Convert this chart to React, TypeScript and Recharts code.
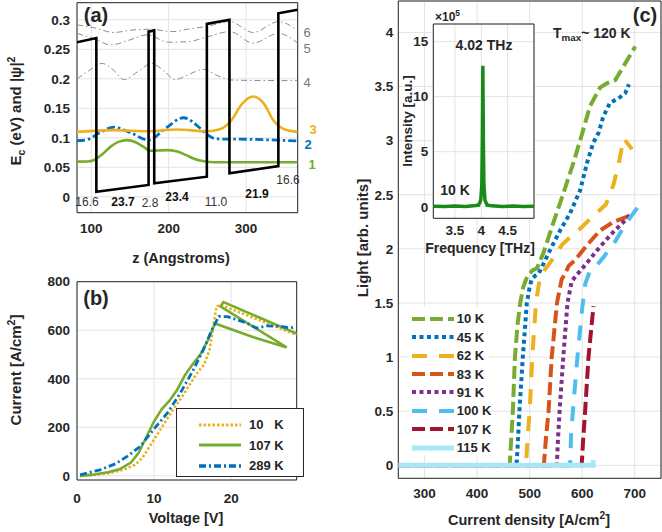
import React from 'react';
import { LineChart, Line, XAxis, YAxis, CartesianGrid, ReferenceArea } from 'recharts';

const FONT = '"Liberation Sans", Arial, Helvetica, sans-serif';
const INK = '#262626';
const GRID = '#E3E3E3';

// ---------- Panel (a): band diagram ----------
const potentialZ = [81.5, 106.5, 106.5, 174, 174, 181.3, 181.3, 249.3, 249.3, 278.5, 278.5, 341.7, 341.7, 366.7];
const potentialE = [0.262, 0.269, 0.0085, 0.020, 0.280, 0.282, 0.0227, 0.034, 0.293, 0.300, 0.0397, 0.052, 0.311, 0.317];

const level1Z = [81.5, 95, 103, 115, 125, 135, 146, 158, 168, 176, 186, 197, 210, 222, 232, 242, 249, 270, 300, 340, 366.7];
const level1E = [0.0595, 0.0598, 0.062, 0.073, 0.085, 0.093, 0.096, 0.092, 0.084, 0.078, 0.0785, 0.079, 0.077, 0.071, 0.065, 0.061, 0.0595, 0.0585, 0.0584, 0.0584, 0.0584];

const level2Z = [81.5, 95, 110, 129, 150, 174, 195, 219, 240, 249, 262, 300, 340, 366.7];
const level2E = [0.095, 0.097, 0.108, 0.118, 0.109, 0.096, 0.115, 0.134, 0.117, 0.106, 0.098, 0.0975, 0.096, 0.0945];

const level3Z = [81.5, 130, 174, 210, 250, 265, 280, 295, 309, 323, 335, 350, 366.7];
const level3E = [0.110, 0.113, 0.111, 0.114, 0.111, 0.114, 0.128, 0.158, 0.170, 0.158, 0.130, 0.114, 0.110];

const level4Z = [81.5, 95, 114, 130, 142, 160, 178, 195, 208, 225, 245, 262, 280, 320, 366.7];
const level4E = [0.200, 0.212, 0.226, 0.213, 0.1985, 0.212, 0.226, 0.212, 0.1985, 0.207, 0.216, 0.206, 0.198, 0.197, 0.197];

const level5Z = [81.5, 105, 125, 150, 172, 200, 225, 250, 279, 309, 342, 366.7];
const level5E = [0.277, 0.267, 0.2575, 0.266, 0.2745, 0.262, 0.263, 0.271, 0.280, 0.2605, 0.277, 0.2605];

const level6Z = [81.5, 105, 129, 155, 176, 206, 224, 250, 279, 309, 342, 366.7];
const level6E = [0.2915, 0.286, 0.2785, 0.283, 0.284, 0.280, 0.284, 0.289, 0.297, 0.2785, 0.297, 0.2815];

const zTicks = [100, 200, 300];
const eTicks = [0, 0.05, 0.1, 0.15, 0.2, 0.25, 0.3];

// ---------- Panel (b): I-V ----------
const iv10V = [0.4, 2, 4, 6, 7.5, 8.5, 9.5, 10.5, 11.5, 12.5, 13.5, 14.5, 15.5, 16.5, 17.2, 17.7, 18.1, 18.6, 28.5];
const iv10I = [0, 3, 10, 25, 45, 75, 125, 175, 225, 275, 320, 370, 420, 460, 520, 620, 698, 705, 581];

const iv107V = [0.4, 2, 4, 5.5, 7, 8, 9, 10, 11, 12, 13, 14, 15, 16, 17, 17.9, 22.8, 27.2, 18.6, 19.0, 28.5];
const iv107I = [0, 5, 15, 27, 55, 95, 160, 225, 275, 310, 355, 415, 460, 500, 560, 628, 572, 529, 698, 716, 586];

const iv289V = [0.4, 3, 5, 6.5, 8.2, 9.9, 11.7, 13.4, 15.1, 16.4, 17.5, 18.4, 19.5, 22, 23.3, 24.6, 26.4, 27.7, 28.1];
const iv289I = [4, 25, 50, 80, 121, 190, 258, 341, 437, 520, 602, 657, 656, 630, 609, 618, 616, 609, 612];

const vTicks = [0, 10, 20];
const iTicks = [0, 200, 400, 600, 800];

// ---------- Panel (c): L-J ----------
const lj10J = [250, 462, 465, 468, 472, 477, 482, 488, 495, 505, 514, 526, 545, 564, 583, 599, 615, 634, 647, 663, 679, 701];
const lj10L = [0, 0, 0.25, 0.5, 1.0, 1.3, 1.5, 1.65, 1.74, 1.8, 1.82, 1.96, 2.24, 2.51, 2.79, 3.05, 3.32, 3.49, 3.53, 3.56, 3.69, 3.87];
const lj45J = [250, 475, 478, 480.5, 487, 494.6, 500, 504, 510, 517, 539, 558, 577, 596, 609, 621, 631, 640, 653, 669, 682, 689];
const lj45L = [0, 0, 0.25, 0.5, 1.0, 1.5, 1.65, 1.72, 1.75, 1.77, 1.99, 2.17, 2.33, 2.54, 2.79, 2.98, 3.07, 3.22, 3.35, 3.39, 3.44, 3.52];
const lj62J = [250, 493, 496, 500, 505, 512, 520, 540, 562, 580, 599, 620, 645, 660, 670, 679, 695];
const lj62L = [0, 0, 0.25, 0.5, 1.0, 1.5, 1.75, 1.88, 2.04, 2.12, 2.2, 2.3, 2.41, 2.6, 2.8, 3.02, 2.92];
const lj83J = [250, 527, 531, 536, 542, 552, 561, 567.5, 574, 587, 612, 634, 660, 682, 691];
const lj83L = [0, 0, 0.25, 0.5, 1.0, 1.5, 1.72, 1.77, 1.84, 1.90, 2.05, 2.17, 2.25, 2.29, 2.31];
const lj91J = [250, 551.7, 554, 557, 564, 572, 580, 590, 609, 634, 660, 679, 694];
const lj91L = [0, 0, 0.25, 0.5, 1.0, 1.5, 1.7, 1.76, 1.87, 2.02, 2.16, 2.25, 2.33];
const lj100J = [250, 577, 579, 584, 590, 595, 600, 606, 615, 628, 640, 663, 675, 690, 705, 720];
const lj100L = [0, 0, 0.3, 0.6, 0.95, 1.2, 1.45, 1.68, 1.8, 1.85, 1.92, 2.07, 2.17, 2.28, 2.38, 2.40];
const lj107J = [250, 599, 602, 605.6, 612, 617, 621.5];
const lj107L = [0, 0, 0.25, 0.5, 1.0, 1.25, 1.47];
const lj115J = [250, 621, 621];
const lj115L = [0, 0, 0.05];

const jTicks = [300, 400, 500, 600, 700];
const lTicks = [0, 0.5, 1, 1.5, 2, 2.5, 3, 3.5, 4];

// ---------- Inset spectrum ----------
const specF = [3.09, 3.3, 3.5, 3.7, 3.85, 3.95, 3.99, 4.01, 4.02, 4.03, 4.04, 4.05, 4.07, 4.11, 4.2, 4.4, 4.6, 4.8, 5.0];
const specI = [0.05, 0.02, 0.06, 0.03, 0.08, 0.15, 0.6, 2.0, 6.0, 12.8, 6.0, 2.0, 0.6, 0.15, 0.08, 0.03, 0.06, 0.02, 0.05];
const fTicks = [3.5, 4, 4.5];
const sTicks = [0, 5, 10, 15];

const pts = (xs: number[], ys: number[]) => xs.map((x, i) => ({ x, y: ys[i] }));

const tickStyle = { fontSize: 13.5, fontWeight: 700, fill: INK, fontFamily: FONT };

const ivSeries = [
  { name: '10   K', color: '#EDB120', dash: '2.5 2', width: 2.6, data: pts(iv10V, iv10I) },
  { name: '107 K', color: '#77AC30', dash: undefined, width: 2.6, data: pts(iv107V, iv107I) },
  { name: '289 K', color: '#0072BD', dash: '7 3 2 3', width: 2.8, data: pts(iv289V, iv289I) },
];

const ljSeries = [
  { name: '10 K', color: '#77AC30', dash: '13 5', width: 4, data: pts(lj10J, lj10L) },
  { name: '45 K', color: '#0072BD', dash: '4 3.5', width: 4, data: pts(lj45J, lj45L) },
  { name: '62 K', color: '#EDB120', dash: '15 12', width: 4, data: pts(lj62J, lj62L) },
  { name: '83 K', color: '#D95319', dash: '13 5', width: 4, data: pts(lj83J, lj83L) },
  { name: '91 K', color: '#7E2F8E', dash: '4 3.5', width: 4, data: pts(lj91J, lj91L) },
  { name: '100 K', color: '#4DBEEE', dash: '15 12', width: 4, data: pts(lj100J, lj100L) },
  { name: '107 K', color: '#A2142F', dash: '13 5', width: 4, data: pts(lj107J, lj107L) },
  { name: '115 K', color: '#A9E6F7', dash: undefined, width: 5, data: pts(lj115J, lj115L) },
];

function Txt(props: any) {
  const { x, y, size = 14, weight = 700, color = INK, anchor = 'middle', rotate = 0, children, italic } = props;
  const tx = anchor === 'middle' ? '-50%' : anchor === 'end' ? '-100%' : '0%';
  return (
    <div
      style={{
        position: 'absolute',
        left: x,
        top: y,
        transform: `translate(${tx}, -50%)${rotate ? ` rotate(${rotate}deg)` : ''}`,
        fontSize: size,
        fontWeight: weight,
        color,
        fontFamily: FONT,
        lineHeight: 1,
        whiteSpace: 'pre',
        fontStyle: italic ? 'italic' : 'normal',
      }}
    >
      {children}
    </div>
  );
}

const Sup = ({ children }: any) => (
  <span style={{ fontSize: '0.7em', position: 'relative', top: '-0.55em' }}>{children}</span>
);
const Sub = ({ children }: any) => (
  <span style={{ fontSize: '0.7em', position: 'relative', top: '0.35em' }}>{children}</span>
);

function Sample({ color, dash, width }: any) {
  return (
    <svg width={42} height={10} style={{ display: 'block' }}>
      <line x1={0} y1={5} x2={42} y2={5} stroke={color} strokeWidth={width} strokeDasharray={dash} />
    </svg>
  );
}

function PanelA() {
  const dom: [number, number] = [81.5, 366.7];
  const ydom: [number, number] = [-0.027, 0.329];
  return (
    <LineChart width={300} height={240} margin={{ top: 2.7, right: 2.3, bottom: 0, left: 0 }}>
      <CartesianGrid stroke={GRID} />
      <XAxis type="number" dataKey="x" domain={dom} ticks={zTicks} allowDataOverflow height={27.3}
        tickLine={false} axisLine={false} tickSize={8} tickMargin={2.6} tick={tickStyle} interval={0} />
      <YAxis type="number" dataKey="y" domain={ydom} ticks={eTicks} allowDataOverflow width={77}
        tickLine={false} axisLine={false} tickSize={5} tickMargin={2} tick={tickStyle} interval={0} />
      <ReferenceArea x1={dom[0]} x2={dom[1]} y1={ydom[0]} y2={ydom[1]} fill="none" stroke={INK} strokeWidth={1} ifOverflow="visible" />
      <Line data={pts(level6Z, level6E)} dataKey="y" type="monotone" stroke="#8C8C8C" strokeWidth={1} strokeDasharray="6 3 1.5 3" dot={false} isAnimationActive={false} />
      <Line data={pts(level5Z, level5E)} dataKey="y" type="monotone" stroke="#8C8C8C" strokeWidth={1} strokeDasharray="6 3 1.5 3" dot={false} isAnimationActive={false} />
      <Line data={pts(level4Z, level4E)} dataKey="y" type="monotone" stroke="#8C8C8C" strokeWidth={1} strokeDasharray="6 3 1.5 3" dot={false} isAnimationActive={false} />
      <Line data={pts(level1Z, level1E)} dataKey="y" type="monotone" stroke="#77AC30" strokeWidth={2.6} dot={false} isAnimationActive={false} />
      <Line data={pts(level2Z, level2E)} dataKey="y" type="monotone" stroke="#0072BD" strokeWidth={2.8} strokeDasharray="8 3 2.5 3" dot={false} isAnimationActive={false} />
      <Line data={pts(level3Z, level3E)} dataKey="y" type="monotone" stroke="#EDB120" strokeWidth={2.6} dot={false} isAnimationActive={false} />
      <Line data={pts(potentialZ, potentialE)} dataKey="y" type="linear" stroke="#000" strokeWidth={2.6} dot={false} isAnimationActive={false} />
    </LineChart>
  );
}

function PanelB() {
  const dom: [number, number] = [0, 28.5];
  const ydom: [number, number] = [-17, 800];
  return (
    <LineChart width={300} height={240} margin={{ top: 11.7, right: 3.3, bottom: 0, left: 0 }}>
      <CartesianGrid stroke={GRID} />
      <XAxis type="number" dataKey="x" domain={dom} ticks={vTicks} allowDataOverflow height={30}
        tickLine={false} axisLine={false} tickSize={10} tickMargin={3.3} tick={tickStyle} interval={0} />
      <YAxis type="number" dataKey="y" domain={ydom} ticks={iTicks} allowDataOverflow width={77}
        tickLine={false} axisLine={false} tickSize={5} tickMargin={2} tick={tickStyle} interval={0} />
      <ReferenceArea x1={dom[0]} x2={dom[1]} y1={ydom[0]} y2={ydom[1]} fill="none" stroke={INK} strokeWidth={1} ifOverflow="visible" />
      {ivSeries.map((s) => (
        <Line key={s.name} data={s.data} dataKey="y" type="linear" stroke={s.color} strokeWidth={s.width}
          strokeDasharray={s.dash} dot={false} isAnimationActive={false} />
      ))}
    </LineChart>
  );
}

function PanelC() {
  const dom: [number, number] = [250, 750];
  const ydom: [number, number] = [-0.12, 4.29];
  return (
    <LineChart width={332} height={532} margin={{ top: 1, right: 1, bottom: 0, left: 0 }}>
      <CartesianGrid stroke={GRID} />
      <XAxis type="number" dataKey="x" domain={dom} ticks={jTicks} allowDataOverflow height={53.7}
        tickLine={false} axisLine={false} tickSize={8} tickMargin={2} tick={tickStyle} interval={0} />
      <YAxis type="number" dataKey="y" domain={ydom} ticks={lTicks} allowDataOverflow width={68.3}
        tickLine={false} axisLine={false} tickSize={3} tickMargin={2} tick={tickStyle} interval={0} />
      <ReferenceArea x1={dom[0]} x2={dom[1]} y1={ydom[0]} y2={ydom[1]} fill="none" stroke={INK} strokeWidth={1} ifOverflow="visible" />
      {ljSeries.map((s) => (
        <Line key={s.name} data={s.data} dataKey="y" type="linear" stroke={s.color} strokeWidth={s.width}
          strokeDasharray={s.dash} dot={false} isAnimationActive={false} />
      ))}
    </LineChart>
  );
}

function Inset() {
  const dom: [number, number] = [3.09, 5.0];
  const ydom: [number, number] = [-1.05, 16.6];
  return (
    <LineChart width={140} height={260} margin={{ top: 24, right: 1, bottom: 0, left: 0 }}>
      <CartesianGrid stroke={GRID} fill="#fff" fillOpacity={1} />
      <XAxis type="number" dataKey="x" domain={dom} ticks={fTicks} allowDataOverflow height={41.7}
        tickLine={false} axisLine={false} tickSize={5} tickMargin={1.7} tick={tickStyle} interval={0} />
      <YAxis type="number" dataKey="y" domain={ydom} ticks={sTicks} allowDataOverflow width={38.3}
        tickLine={false} axisLine={false} tickSize={3} tickMargin={2} tick={tickStyle} interval={0} />
      <ReferenceArea x1={dom[0]} x2={dom[1]} y1={ydom[0]} y2={ydom[1]} fill="none" stroke={INK} strokeWidth={1} ifOverflow="visible" />
      <Line data={pts(specF, specI)} dataKey="y" type="linear" stroke="#178A17" strokeWidth={3.5} dot={false} isAnimationActive={false} />
    </LineChart>
  );
}

export default function App() {
  return (
    <div style={{ position: 'fixed', left: 0, top: 0, width: 662, height: 532, background: '#fff', overflow: 'hidden', fontFamily: FONT }}>
      <div style={{ position: 'absolute', left: 0, top: 0 }}><PanelA /></div>
      <div style={{ position: 'absolute', left: 0, top: 270 }}><PanelB /></div>
      <div style={{ position: 'absolute', left: 330, top: 0 }}><PanelC /></div>
      <div style={{ position: 'absolute', left: 395, top: 0 }}><Inset /></div>

      {/* Panel (a) texts */}
      <Txt x={96} y={15} size={20}>(a)</Txt>
      <Txt x={15} y={111} size={15} rotate={-90}>E<Sub>c</Sub> (eV) and |ψ|<Sup>2</Sup></Txt>
      <Txt x={181} y={258} size={14.5}>z (Angstroms)</Txt>
      <Txt x={87} y={202} size={12} weight={400} color="#333">16.6</Txt>
      <Txt x={123} y={202} size={12} color="#111">23.7</Txt>
      <Txt x={150} y={203} size={12} weight={400} color="#333">2.8</Txt>
      <Txt x={177} y={197} size={12} color="#111">23.4</Txt>
      <Txt x={216} y={202} size={12} weight={400} color="#333">11.0</Txt>
      <Txt x={257} y={194} size={12} color="#111">21.9</Txt>
      <Txt x={288} y={180} size={12} weight={400} color="#333">16.6</Txt>
      <Txt x={307} y={32} size={13} weight={400} color="#777">6</Txt>
      <Txt x={307} y={48} size={13} weight={400} color="#777">5</Txt>
      <Txt x={307} y={82} size={13} weight={400} color="#777">4</Txt>
      <Txt x={313} y={129} size={13} color="#EDB120">3</Txt>
      <Txt x={308} y={144} size={13} color="#0072BD">2</Txt>
      <Txt x={312} y={164} size={13} color="#77AC30">1</Txt>

      {/* Panel (b) texts */}
      <Txt x={96} y={298} size={20}>(b)</Txt>
      <Txt x={15} y={370} size={15} rotate={-90}>Current [A/cm<Sup>2</Sup>]</Txt>
      <Txt x={186} y={518} size={14.5}>Voltage [V]</Txt>
      <div style={{ position: 'absolute', left: 176, top: 408.3, width: 128, height: 68.4, background: '#fff', border: `1px solid ${INK}`, boxSizing: 'border-box' }}>
        {ivSeries.map((s, i) => (
          <div key={s.name} style={{ position: 'absolute', left: 22, top: 9 + i * 20.5, display: 'flex', alignItems: 'center' }}>
            <Sample color={s.color} dash={s.dash} width={s.width + 0.6} />
            <span style={{ marginLeft: 8, fontSize: 13, fontWeight: 700, color: INK, fontFamily: FONT, whiteSpace: 'pre', lineHeight: 1 }}>{s.name}</span>
          </div>
        ))}
      </div>

      {/* Panel (c) texts */}
      <Txt x={645} y={15} size={20}>(c)</Txt>
      <Txt x={553} y={33} size={14} anchor="start">T<Sub>max</Sub>~ 120 K</Txt>
      <Txt x={362} y={238} size={15} rotate={-90}>Light [arb. units]</Txt>
      <Txt x={529} y={520} size={14.5}>Current density [A/cm<Sup>2</Sup>]</Txt>
      <div style={{ position: 'absolute', left: 409, top: 307, width: 80, height: 148, background: '#fff' }}>
        {ljSeries.map((s, i) => (
          <div key={s.name} style={{ position: 'absolute', left: 2.7, top: 5.3 + i * 18.4, display: 'flex', alignItems: 'center' }}>
            <Sample color={s.color} dash={s.dash} width={s.width} />
            <span style={{ marginLeft: 3, fontSize: 13, fontWeight: 700, color: INK, fontFamily: FONT, whiteSpace: 'pre', lineHeight: 1 }}>{s.name}</span>
          </div>
        ))}
      </div>

      {/* Inset texts */}
      <Txt x={435} y={17} size={12} anchor="start">×10<Sup>5</Sup></Txt>
      <Txt x={484} y={45} size={14}>4.02 THz</Txt>
      <Txt x={455} y={190} size={14}>10 K</Txt>
      <Txt x={408} y={121} size={13.5} rotate={-90}>Intensity [a.u.]</Txt>
      <Txt x={480} y={248} size={14}>Frequency [THz]</Txt>
    </div>
  );
}
